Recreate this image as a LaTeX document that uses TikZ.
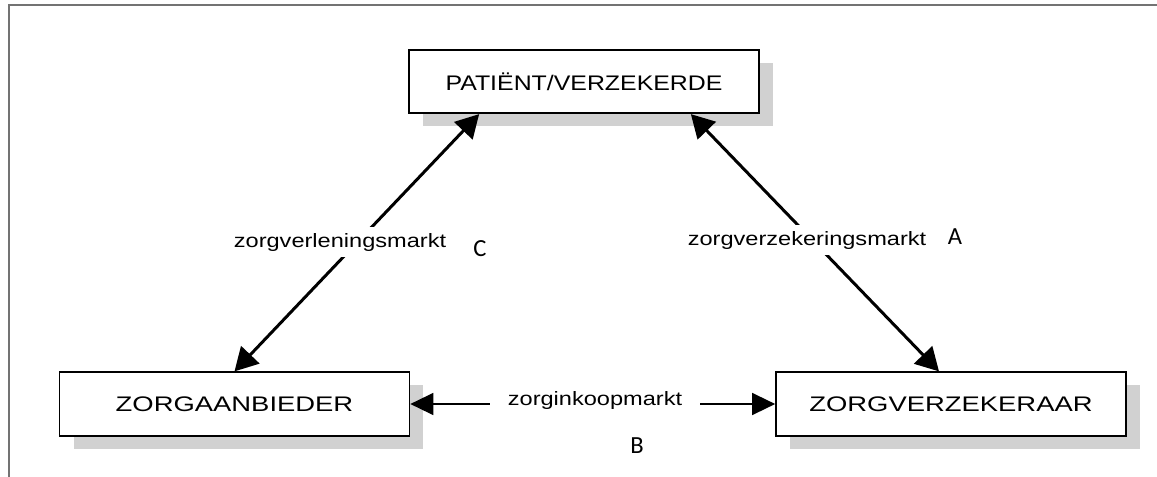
\documentclass[tikz,border=0pt]{standalone}
\usepackage{fontspec}
\setmainfont{Liberation Sans}
\newfontfamily\letterfont{Carlito}
\usetikzlibrary{arrows.meta,shadows}

\newcommand{\stretched}[2]{\scalebox{#1}[1]{#2}}

\begin{document}
\begin{tikzpicture}[x=0.02cm,y=-0.02cm,
        partij/.style={draw,line width=1pt,fill=white,minimum width=7cm,minimum height=1.27cm,inner sep=0pt,
          font=\fontsize{12}{14}\selectfont,
          drop shadow={shadow xshift=0.28cm,shadow yshift=-0.26cm,fill=black!18,opacity=1}},
        markt/.style={fill=white,inner xsep=1pt,inner ysep=0.11cm,font=\fontsize{11}{13}\selectfont},
        letter/.style={font=\letterfont\fontsize{14}{16}\selectfont},
        dik/.style={line width=1.7pt,{Triangle[length=0.46cm,width=0.5cm]}-{Triangle[length=0.46cm,width=0.5cm]}},
        dun/.style={line width=0.8pt,{Triangle[length=0.46cm,width=0.44cm]}-{Triangle[length=0.46cm,width=0.44cm]}}]
        \useasboundingbox (0,0) rectangle (1157,477);
        \draw [black!55,line width=1.2pt] (1157,5) -- (9,5) -- (9,477);

        \node [partij] (pat) at (584,81.5) {\stretched{1.18}{PATIËNT/VERZEKERDE}};
        \node [partij] (aanb) at (234.5,404) {\stretched{1.3}{ZORGAANBIEDER}};
        \node [partij] (verz) at (951,404) {\stretched{1.3}{ZORGVERZEKERAAR}};

        \draw [dik] ([xshift=1.42cm]pat.south west) -- (aanb.north);
        \draw [dik] ([xshift=-1.38cm]pat.south east) -- ([xshift=-0.24cm]verz.north);
        \draw [dun] (aanb.east) -- (verz.west);

        \node [markt] (verlening) at (340,242) {\stretched{1.22}{zorgverleningsmarkt}};
        \node [markt] (verzekering) at (807,240) {\stretched{1.22}{zorgverzekeringsmarkt}};
        \node [markt,inner xsep=0.35cm] (inkoop) at (595,400) {\stretched{1.22}{zorginkoopmarkt}};

        \node [letter] (c) at (480,249) {C};
        \node [letter] (a) at (955,237) {A};
        \node [letter] (b) at (637,446) {B};
    \end{tikzpicture}
\end{document}
